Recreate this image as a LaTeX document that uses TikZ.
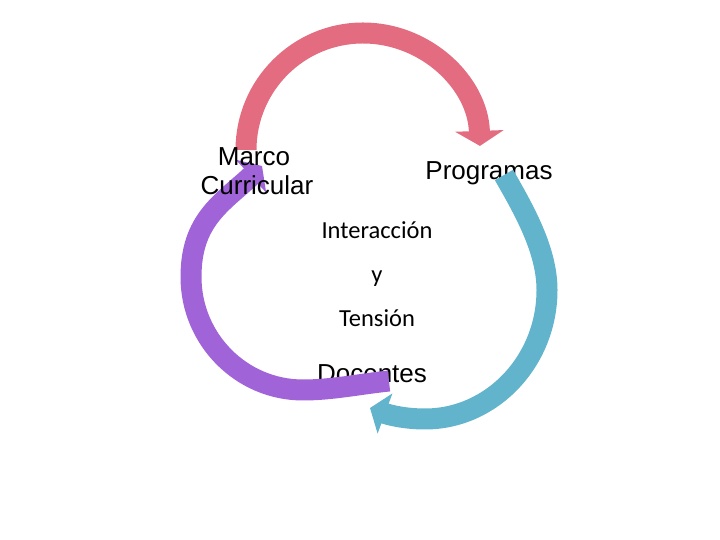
\documentclass[tikz,border=0pt]{standalone}
\usepackage{fontspec}
\setmainfont{Liberation Sans}
\newfontfamily\calibri{Carlito}
\usepackage{tikz}
\usetikzlibrary{arrows.meta}
\definecolor{cycred}{HTML}{E46C80}
\definecolor{cycblue}{HTML}{62B4CC}
\definecolor{cycpurple}{HTML}{A064D8}

\begin{document}
\begin{tikzpicture}[x=1pt, y=1pt,
  ring/.style={line width=21pt},
  label/.style={font=\fontsize{26}{30}\selectfont, anchor=base, inner sep=0pt},
  core/.style={font=\calibri\fontsize{24.5}{28}\selectfont, anchor=base, inner sep=0pt},
]
\useasboundingbox (0,0) rectangle (720,540);

% Docentes and Programas sit under the arrows
\node[label] (docentes) at (372,157) {Docentes};
\node[label] (programas) at (489,360) {Programas};

% End points of the arrows
\coordinate (redstart) at (246,390);
\coordinate (bluestart) at (504,365);
\coordinate (blueright) at (547,250);
\coordinate (bluebottom) at (425,121);
\coordinate (bluetip) at (370,132);
\coordinate (purplestart) at (389,159);
\coordinate (purplebottom) at (303,150);
\coordinate (purpleleft) at (191,263);
\coordinate (purpletip) at (262,374);

% Arrows
\draw[ring, cycred, -{Triangle[width=48pt, length=15pt]}]
  (redstart) arc[start angle=180, end angle=2, radius=117];
\draw[ring, cycblue, -{Triangle[width=42pt, length=16pt]}]
  (bluestart) .. controls (524,330) and (547,290) .. (blueright)
  .. controls (547,179) and (492,121) .. (bluebottom)
  .. controls (405,121) and (389,125) .. (bluetip);
\draw[ring, cycpurple, -{Triangle[width=44pt, length=15pt]}]
  (purplestart) .. controls (360,156) and (332,150) .. (purplebottom)
  .. controls (241,150) and (191,201) .. (purpleleft)
  .. controls (191,320) and (222,337) .. (purpletip);

% Labels on top
\node[label] (marco) at (254,374) {Marco};
\node[label] (curricular) at (257,345) {Curricular};

% Centre text
\node[core] (interaccion) at (377,301) {Interacción};
\node[core] (y) at (377,257) {y};
\node[core] (tension) at (377,213) {Tensión};

\end{tikzpicture}
\end{document}
